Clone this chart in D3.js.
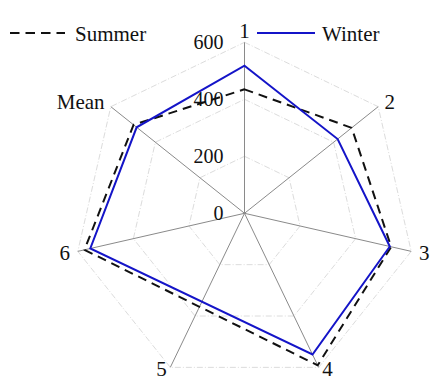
<!DOCTYPE html>
<html>
<head>
<meta charset="utf-8">
<script src="https://cdn.jsdelivr.net/npm/d3@7/dist/d3.min.js"></script>
<style>
  html, body { margin: 0; padding: 0; background: #fff; }
  svg { display: block; }
</style>
</head>
<body>
<svg id="chart" width="431" height="381"></svg>
<script>
// Radar axes (station 5 has no reading for either season)
const axes = ["1", "2", "3", "4", "5", "6", "Mean"];
const summer = [435, 481, 528, 592, null, 576, 498];
const winter = [518, 418, 523, 550, null, 555, 484];
const ringTicks = [200, 400, 600];
const tickLabels = ["0", "200", "400", "600"];
const seriesNames = ["Summer", "Winter"];

const FONT = "Liberation Serif";

const svg = d3.select("#chart");
const cx = 244.5, cy = 213.3, R = 171;

const r = d3.scaleLinear().domain([0, 600]).range([0, R]);
const angle = d3.scaleLinear().domain([0, axes.length]).range([0, 2 * Math.PI]);

const g = svg.append("g").attr("transform", `translate(${cx},${cy})`);
const pt = (i, v) => [Math.sin(angle(i)) * r(v), -Math.cos(angle(i)) * r(v)];

// Grid rings
ringTicks.forEach(t => {
  g.append("path")
    .attr("d", d3.lineRadial().angle((d, i) => angle(i)).radius(() => r(t)).curve(d3.curveLinearClosed)(axes))
    .attr("fill", "none")
    .attr("stroke", "#dcdcdc")
    .attr("stroke-width", 1)
    .attr("stroke-dasharray", "6,2,1,2");
});

// Spokes
axes.forEach((a, i) => {
  const [x, y] = pt(i, 600);
  g.append("line")
    .attr("x1", 0).attr("y1", 0).attr("x2", x).attr("y2", y)
    .attr("stroke", "#8a8a8a").attr("stroke-width", 1);
});

// Radial tick labels along the first spoke
tickLabels.forEach(t => {
  g.append("text")
    .attr("x", -21)
    .attr("y", -r(+t))
    .attr("dy", "0.35em")
    .attr("text-anchor", "end")
    .attr("font-family", FONT)
    .attr("font-size", 20)
    .attr("fill", "#111")
    .text(t);
});

// Spoke labels
axes.forEach((a, i) => {
  const [x, y] = pt(i, 600 * 179 / 171);
  const s = Math.sin(angle(i));
  const anchor = Math.abs(s) < 0.01 ? "middle" : (s > 0 ? "start" : "end");
  g.append("text")
    .attr("x", i === 0 ? 0 : x)
    .attr("y", i === 0 ? -183 : y - (y > 150 ? 5.5 : 0))
    .attr("dy", "0.35em")
    .attr("text-anchor", anchor)
    .attr("font-family", FONT)
    .attr("font-size", 21)
    .attr("fill", "#111")
    .text(a);
});

// Season outlines, skipping missing readings
const line = d3.lineRadial()
  .angle(d => angle(d.i))
  .radius(d => r(d.v))
  .curve(d3.curveLinearClosed);
const pts = vals => vals.map((v, i) => ({ i, v })).filter(d => d.v != null);

g.append("path")
  .attr("d", line(pts(summer)))
  .attr("fill", "none")
  .attr("stroke", "#111")
  .attr("stroke-width", 2)
  .attr("stroke-dasharray", "9,6")
  .attr("stroke-linejoin", "round");

g.append("path")
  .attr("d", line(pts(winter)))
  .attr("fill", "none")
  .attr("stroke", "#1414c8")
  .attr("stroke-width", 2);

// Legend
const legend = svg.append("g");
legend.append("line")
  .attr("x1", 10).attr("x2", 65).attr("y1", 33).attr("y2", 33)
  .attr("stroke", "#111").attr("stroke-width", 2).attr("stroke-dasharray", "9.5,6");
legend.append("text").attr("x", 75).attr("y", 41)
  .attr("font-family", FONT).attr("font-size", 21).attr("fill", "#111").text(seriesNames[0]);
legend.append("line")
  .attr("x1", 257).attr("x2", 315).attr("y1", 33).attr("y2", 33)
  .attr("stroke", "#1414c8").attr("stroke-width", 2);
legend.append("text").attr("x", 322).attr("y", 41)
  .attr("font-family", FONT).attr("font-size", 21).attr("fill", "#111").text(seriesNames[1]);
</script>
</body>
</html>
